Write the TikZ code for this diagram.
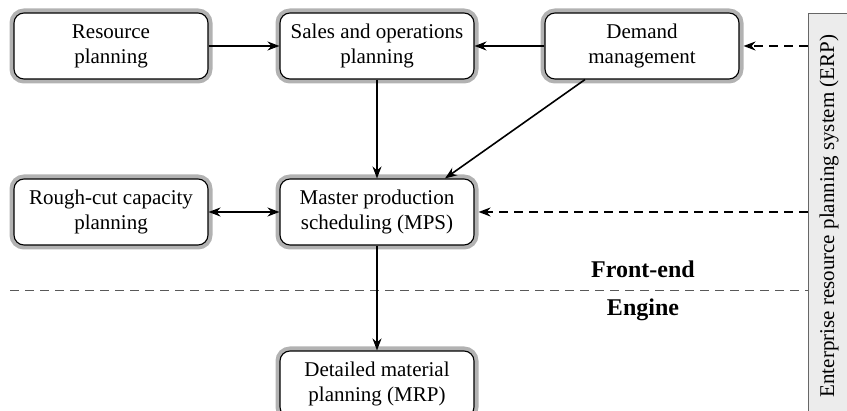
\documentclass[tikz,border=0pt]{standalone}
\usepackage{fontspec}
\setmainfont{Liberation Serif}
\usetikzlibrary{arrows.meta,calc}
\begin{document}
\begin{tikzpicture}[x=1pt,y=-1pt,
  box/.style={draw=black, line width=1.1pt, fill=white, rounded corners=10pt,
    minimum width=194pt, minimum height=66pt, align=center,
    font=\fontsize{21}{25}\selectfont,
    preaction={draw=gray!60, line width=9pt, rounded corners=10pt}},
  arr/.style={line width=1.6pt, -{Stealth[length=12pt,width=9pt]}},
  darr/.style={line width=1.9pt, dash pattern=on 9pt off 6pt, -{Stealth[length=12pt,width=9pt]}},
  lbl/.style={font=\fontsize{24}{28}\selectfont\bfseries}]
\useasboundingbox (0,0) rectangle (847,411);
\node[box] (res) at (111,46) {Resource\\planning};
\node[box] (sop) at (377,46) {Sales and operations\\planning};
\node[box] (dem) at (642,46) {Demand\\management};
\node[box] (rcc) at (111,212) {Rough-cut capacity\\planning};
\node[box] (mps) at (377,212) {Master production\\scheduling (MPS)};
\node[box] (mrp) at (377,384) {Detailed material\\planning (MRP)};
\node[draw=gray!80!black, fill=gray!15, line width=0.8pt, rotate=90,
  minimum width=405pt, minimum height=42pt, inner sep=0pt,
  font=\fontsize{21}{25}\selectfont] (erp) at (829,216) {Enterprise resource planning system (ERP)};
\node[lbl] (fe) at (643,269) {Front-end};
\node[lbl] (en) at (643,310) {Engine};
\coordinate (sepL) at (10,290);
\coordinate (sepR) at (erp.north |- sepL);
\draw[line width=0.9pt, gray!70!black, dash pattern=on 9pt off 6pt] (sepL) -- (sepR);
\draw[arr] (res) -- (sop);
\draw[arr] (dem) -- (sop);
\draw[arr] (sop) -- (mps);
\draw[arr] ([xshift=-57pt]dem.south) -- ([xshift=68pt]mps.north);
\draw[arr, {Stealth[length=12pt,width=9pt]}-{Stealth[length=12pt,width=9pt]}] (rcc) -- (mps);
\draw[arr] (mps) -- (mrp);
\draw[darr] (erp.north |- dem.east) -- ([xshift=4pt]dem.east);
\draw[darr] (erp.north |- mps.east) -- ([xshift=4pt]mps.east);
\end{tikzpicture}
\end{document}
